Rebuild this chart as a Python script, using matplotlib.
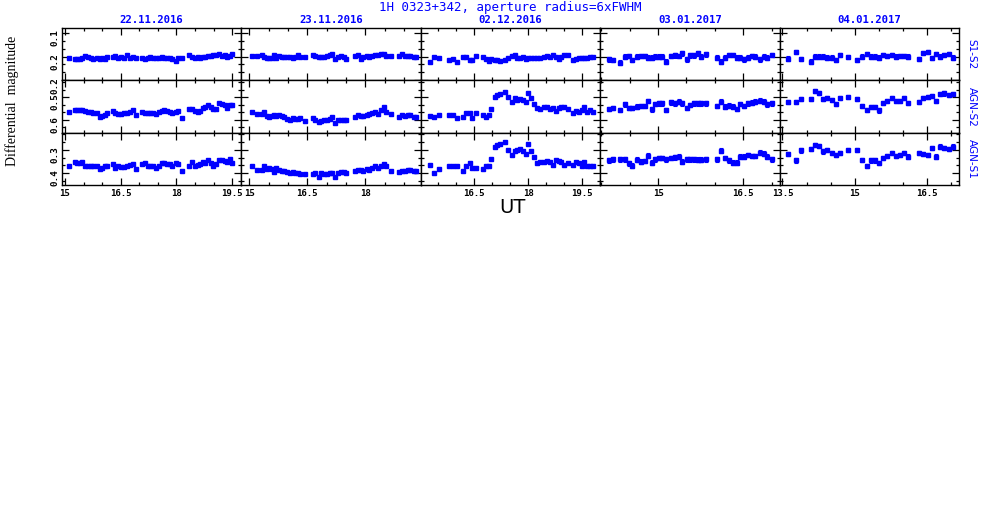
"""
Differential light curves of 1H 0323+342 (five nights, three comparisons).
"""
import matplotlib
matplotlib.use("Agg")
import matplotlib.pyplot as plt
from matplotlib.ticker import MultipleLocator, AutoMinorLocator, FormatStrFormatter

TITLE = "1H 0323+342, aperture radius=6xFWHM"
DATES = ["22.11.2016", "23.11.2016", "02.12.2016", "03.01.2017", "04.01.2017"]
ROW_NAMES = ["S1-S2", "AGN-S2", "AGN-S1"]

XLIMS = [(14.92, 19.75), (14.80, 19.43), (15.01, 20.01), (13.98, 17.14), (13.44, 17.17)]
YLIMS = [(0.3005, 0.0787), (0.657, 0.426), (0.452, 0.226)]
ROW1_YTICKS = [0.1, 0.2, 0.3]
ROW1_YTICKLABELS = ["0.1", "0.2", "0.2"]
ERR = [0.003, 0.003, 0.004, 0.010, 0.009]

# 22.11.2016
T_1 = [15.12, 15.27, 15.33, 15.40, 15.47, 15.55, 15.63, 15.69, 15.76, 15.85,
       15.94, 16.01, 16.08, 16.14, 16.28, 16.35, 16.43, 16.52, 16.58, 16.67,
       16.74, 16.83, 16.90, 17.08, 17.15, 17.23, 17.30, 17.37, 17.46, 17.53,
       17.60, 17.67, 17.74, 17.82, 17.89, 17.98, 18.05, 18.14, 18.35, 18.42,
       18.49, 18.57, 18.64, 18.71, 18.78, 18.85, 18.92, 18.99, 19.07, 19.16,
       19.23, 19.30, 19.37, 19.44, 19.51]
S1S2_1 = [0.204, 0.211, 0.208, 0.208, 0.207, 0.197, 0.201, 0.207, 0.208, 0.204,
          0.208, 0.207, 0.212, 0.203, 0.203, 0.199, 0.206, 0.201, 0.204, 0.194,
          0.204, 0.200, 0.204, 0.204, 0.211, 0.204, 0.203, 0.206, 0.204, 0.204,
          0.203, 0.206, 0.207, 0.207, 0.211, 0.218, 0.206, 0.206, 0.194, 0.200,
          0.204, 0.200, 0.206, 0.201, 0.200, 0.197, 0.197, 0.194, 0.194, 0.190,
          0.197, 0.194, 0.201, 0.199, 0.189]
AGNS2_1 = [0.567, 0.557, 0.559, 0.557, 0.557, 0.561, 0.567, 0.565, 0.568, 0.571,
           0.586, 0.583, 0.581, 0.568, 0.561, 0.571, 0.575, 0.574, 0.571, 0.568,
           0.565, 0.557, 0.581, 0.567, 0.568, 0.568, 0.571, 0.571, 0.575, 0.567,
           0.561, 0.559, 0.561, 0.564, 0.571, 0.567, 0.561, 0.593, 0.554, 0.552,
           0.561, 0.567, 0.561, 0.549, 0.545, 0.536, 0.545, 0.554, 0.554, 0.528,
           0.530, 0.535, 0.546, 0.535, 0.535]
AGNS1_1 = [0.368, 0.351, 0.355, 0.355, 0.351, 0.372, 0.368, 0.368, 0.368, 0.372,
           0.383, 0.380, 0.372, 0.368, 0.362, 0.380, 0.372, 0.375, 0.375, 0.370,
           0.365, 0.362, 0.383, 0.362, 0.358, 0.370, 0.372, 0.368, 0.377, 0.368,
           0.358, 0.358, 0.361, 0.362, 0.368, 0.358, 0.362, 0.391, 0.368, 0.354,
           0.372, 0.365, 0.362, 0.354, 0.358, 0.343, 0.358, 0.368, 0.362, 0.343,
           0.343, 0.348, 0.354, 0.341, 0.355]

# 23.11.2016
T_2 = [15.07, 15.19, 15.32, 15.39, 15.45, 15.52, 15.58, 15.64, 15.70, 15.77,
       15.84, 15.91, 15.97, 16.05, 16.12, 16.19, 16.26, 16.32, 16.45, 16.64,
       16.71, 16.79, 16.86, 16.92, 17.00, 17.08, 17.15, 17.22, 17.30, 17.37,
       17.44, 17.51, 17.74, 17.80, 17.88, 17.95, 18.03, 18.10, 18.17, 18.25,
       18.32, 18.40, 18.47, 18.53, 18.66, 18.88, 18.95, 19.02, 19.09, 19.16,
       19.25, 19.31]
S1S2_2 = [0.197, 0.197, 0.193, 0.201, 0.204, 0.204, 0.204, 0.193, 0.207, 0.197,
          0.200, 0.200, 0.201, 0.200, 0.204, 0.200, 0.194, 0.200, 0.201, 0.194,
          0.197, 0.200, 0.200, 0.201, 0.197, 0.193, 0.190, 0.211, 0.200, 0.197,
          0.200, 0.208, 0.197, 0.194, 0.211, 0.200, 0.197, 0.200, 0.197, 0.194,
          0.194, 0.190, 0.188, 0.197, 0.197, 0.197, 0.190, 0.197, 0.197, 0.197,
          0.200, 0.201]
AGNS2_2 = [0.567, 0.575, 0.574, 0.567, 0.583, 0.586, 0.583, 0.581, 0.583, 0.581,
           0.583, 0.586, 0.596, 0.600, 0.593, 0.597, 0.596, 0.593, 0.607, 0.593,
           0.603, 0.612, 0.604, 0.603, 0.600, 0.596, 0.586, 0.614, 0.603, 0.603,
           0.600, 0.600, 0.586, 0.578, 0.583, 0.583, 0.578, 0.575, 0.571, 0.564,
           0.574, 0.557, 0.545, 0.564, 0.574, 0.586, 0.581, 0.583, 0.581, 0.578,
           0.586, 0.586]
AGNS1_2 = [0.372, 0.387, 0.387, 0.368, 0.384, 0.380, 0.383, 0.397, 0.380, 0.387,
           0.391, 0.390, 0.397, 0.401, 0.394, 0.401, 0.401, 0.404, 0.406, 0.406,
           0.401, 0.416, 0.401, 0.404, 0.404, 0.401, 0.399, 0.416, 0.401, 0.394,
           0.397, 0.399, 0.390, 0.387, 0.387, 0.390, 0.384, 0.387, 0.380, 0.368,
           0.380, 0.368, 0.362, 0.372, 0.390, 0.394, 0.391, 0.391, 0.387, 0.387,
           0.390, 0.390]

# 02.12.2016
T_3 = [15.26, 15.37, 15.51, 15.79, 15.90, 16.03, 16.19, 16.28, 16.37, 16.44,
       16.54, 16.74, 16.82, 16.91, 16.98, 17.07, 17.14, 17.23, 17.37, 17.45,
       17.54, 17.63, 17.70, 17.77, 17.86, 17.93, 18.00, 18.09, 18.16, 18.24,
       18.32, 18.44, 18.54, 18.61, 18.70, 18.77, 18.85, 18.93, 19.00, 19.10,
       19.25, 19.33, 19.42, 19.49, 19.56, 19.64, 19.73, 19.82]
S1S2_3 = [0.221, 0.200, 0.207, 0.214, 0.208, 0.222, 0.200, 0.201, 0.214, 0.215,
          0.197, 0.201, 0.211, 0.218, 0.211, 0.215, 0.214, 0.218, 0.214, 0.207,
          0.197, 0.193, 0.207, 0.204, 0.200, 0.208, 0.204, 0.204, 0.207, 0.204,
          0.207, 0.201, 0.197, 0.200, 0.194, 0.200, 0.211, 0.200, 0.193, 0.193,
          0.215, 0.211, 0.204, 0.207, 0.204, 0.207, 0.201, 0.200]
AGNS2_3 = [0.583, 0.588, 0.581, 0.581, 0.581, 0.593, 0.588, 0.568, 0.571, 0.593,
           0.571, 0.581, 0.588, 0.578, 0.552, 0.499, 0.491, 0.487, 0.477, 0.499,
           0.520, 0.506, 0.513, 0.509, 0.513, 0.520, 0.481, 0.506, 0.532, 0.549,
           0.554, 0.542, 0.545, 0.552, 0.549, 0.561, 0.549, 0.542, 0.545, 0.552,
           0.571, 0.561, 0.564, 0.557, 0.545, 0.567, 0.559, 0.564]
AGNS1_3 = [0.365, 0.399, 0.383, 0.372, 0.372, 0.372, 0.390, 0.372, 0.358, 0.380,
           0.380, 0.384, 0.372, 0.368, 0.339, 0.290, 0.278, 0.274, 0.268, 0.300,
           0.322, 0.307, 0.303, 0.297, 0.307, 0.319, 0.275, 0.307, 0.329, 0.358,
           0.354, 0.351, 0.348, 0.354, 0.365, 0.343, 0.348, 0.354, 0.365, 0.358,
           0.365, 0.354, 0.358, 0.368, 0.351, 0.368, 0.368, 0.368]

# 03.01.2017
T_4 = [14.13, 14.20, 14.32, 14.41, 14.48, 14.54, 14.62, 14.69, 14.77, 14.83,
       14.89, 14.95, 15.01, 15.07, 15.14, 15.22, 15.29, 15.36, 15.42, 15.51,
       15.57, 15.63, 15.70, 15.76, 15.84, 16.04, 16.11, 16.17, 16.24, 16.32,
       16.39, 16.45, 16.52, 16.58, 16.66, 16.71, 16.79, 16.86, 16.92, 17.01]
S1S2_4 = [0.211, 0.214, 0.225, 0.200, 0.197, 0.214, 0.200, 0.197, 0.197, 0.204,
          0.204, 0.200, 0.200, 0.200, 0.221, 0.197, 0.194, 0.197, 0.186, 0.211,
          0.194, 0.194, 0.186, 0.200, 0.190, 0.204, 0.222, 0.204, 0.193, 0.193,
          0.204, 0.204, 0.211, 0.204, 0.197, 0.200, 0.211, 0.200, 0.204, 0.193]
AGNS2_4 = [0.552, 0.549, 0.557, 0.532, 0.549, 0.549, 0.542, 0.539, 0.539, 0.517,
           0.554, 0.530, 0.528, 0.528, 0.557, 0.523, 0.528, 0.520, 0.528, 0.549,
           0.535, 0.528, 0.528, 0.528, 0.528, 0.539, 0.520, 0.542, 0.538, 0.542,
           0.552, 0.530, 0.539, 0.528, 0.525, 0.520, 0.516, 0.520, 0.532, 0.528]
AGNS1_4 = [0.346, 0.341, 0.341, 0.341, 0.358, 0.368, 0.343, 0.351, 0.348, 0.325,
           0.355, 0.341, 0.336, 0.336, 0.341, 0.336, 0.333, 0.329, 0.351, 0.341,
           0.341, 0.341, 0.343, 0.343, 0.341, 0.341, 0.304, 0.336, 0.346, 0.355,
           0.355, 0.329, 0.329, 0.322, 0.326, 0.326, 0.312, 0.317, 0.329, 0.341]

# 04.01.2017
T_5 = [13.62, 13.79, 13.89, 14.10, 14.18, 14.26, 14.35, 14.43, 14.52, 14.62,
       14.70, 14.87, 15.04, 15.16, 15.25, 15.34, 15.42, 15.50, 15.59, 15.68,
       15.77, 15.86, 15.95, 16.03, 16.12, 16.34, 16.43, 16.52, 16.61, 16.69,
       16.78, 16.86, 16.96, 17.04]
S1S2_5 = [0.208, 0.179, 0.211, 0.221, 0.200, 0.200, 0.200, 0.204, 0.204, 0.215,
          0.193, 0.201, 0.214, 0.200, 0.190, 0.200, 0.200, 0.204, 0.193, 0.197,
          0.194, 0.200, 0.197, 0.197, 0.200, 0.211, 0.186, 0.181, 0.207, 0.190,
          0.200, 0.194, 0.190, 0.204]
AGNS2_5 = [0.523, 0.523, 0.510, 0.510, 0.472, 0.480, 0.510, 0.503, 0.513, 0.532,
           0.506, 0.499, 0.510, 0.538, 0.557, 0.542, 0.542, 0.559, 0.525, 0.517,
           0.506, 0.516, 0.516, 0.506, 0.528, 0.520, 0.503, 0.501, 0.494, 0.516,
           0.487, 0.484, 0.491, 0.488]
AGNS1_5 = [0.317, 0.346, 0.303, 0.296, 0.278, 0.283, 0.307, 0.300, 0.314, 0.322,
           0.314, 0.300, 0.300, 0.343, 0.370, 0.346, 0.346, 0.358, 0.336, 0.325,
           0.314, 0.325, 0.322, 0.314, 0.329, 0.314, 0.317, 0.322, 0.293, 0.329,
           0.286, 0.293, 0.297, 0.286]

NIGHTS = [
    (T_1, [S1S2_1, AGNS2_1, AGNS1_1]),
    (T_2, [S1S2_2, AGNS2_2, AGNS1_2]),
    (T_3, [S1S2_3, AGNS2_3, AGNS1_3]),
    (T_4, [S1S2_4, AGNS2_4, AGNS1_4]),
    (T_5, [S1S2_5, AGNS2_5, AGNS1_5]),
]

BLUE = "#0000ff"


def style_axis(ax, row, col):
    """Inward ticks on every side, PGPLOT look."""
    ax.xaxis.set_major_locator(MultipleLocator(1.5))
    ax.xaxis.set_minor_locator(MultipleLocator(0.5))
    ax.xaxis.set_major_formatter(FormatStrFormatter("%g"))
    if row == 0:
        ax.set_yticks(ROW1_YTICKS)
        ax.set_yticklabels(ROW1_YTICKLABELS)
    else:
        ax.yaxis.set_major_locator(MultipleLocator(0.1))
        ax.yaxis.set_major_formatter(FormatStrFormatter("%.1f"))
    ax.yaxis.set_minor_locator(AutoMinorLocator(3))
    ax.tick_params(which="both", direction="in", top=True, right=True,
                   color="black", width=0.9)
    ax.tick_params(which="major", length=5)
    ax.tick_params(which="minor", length=2.5)
    ax.tick_params(axis="x", labelsize=6.5, pad=3)
    ax.tick_params(axis="y", labelsize=6.7, labelrotation=90, pad=2)
    for sp in ax.spines.values():
        sp.set_linewidth(1.0)


def draw():
    plt.rcParams["font.family"] = ["DejaVu Sans Mono", "DejaVu Sans"]
    plt.rcParams["font.weight"] = "bold"

    fig, axes = plt.subplots(3, 5, figsize=(9.81, 5.18), dpi=100,
                             sharex="col", sharey="row")
    fig.subplots_adjust(left=62 / 981, right=959 / 981,
                        top=1 - 28 / 518, bottom=1 - 185 / 518,
                        wspace=0, hspace=0)

    for col, (t, series) in enumerate(NIGHTS):
        for row in range(3):
            ax = axes[row, col]
            ax.errorbar(t, series[row], yerr=ERR[col], fmt="s", ms=2.4,
                        color=BLUE, mec=BLUE, mfc=BLUE, elinewidth=0.8,
                        capsize=1.3, capthick=0.8)
            ax.set_xlim(*XLIMS[col])
            ax.set_ylim(*YLIMS[row])
            style_axis(ax, row, col)
        axes[0, col].set_title(DATES[col], color=BLUE, fontsize=7.7,
                               fontweight="bold", pad=3.5)

    for row in range(3):
        axes[row, 4].text(1.07, 0.5, ROW_NAMES[row], transform=axes[row, 4].transAxes,
                          rotation=270, ha="center", va="center", color=BLUE,
                          fontsize=7.5, fontweight="normal",
                          family=["Liberation Sans Narrow", "DejaVu Sans"])

    fig.text(0.52, 0.985, TITLE, color=BLUE, fontsize=9, fontweight="normal",
             ha="center", va="center")
    fig.text(0.012, 0.805, "Differential  magnitude", rotation=90,
             ha="center", va="center", fontsize=10, fontweight="normal",
             family=["Liberation Serif", "DejaVu Serif"])
    fig.text(0.522, 0.600, "UT", ha="center", va="center", fontsize=14,
             fontweight="normal", family="DejaVu Sans")

    fig.savefig("out.png", dpi=100)
    plt.close(fig)


if __name__ == "__main__":
    draw()
